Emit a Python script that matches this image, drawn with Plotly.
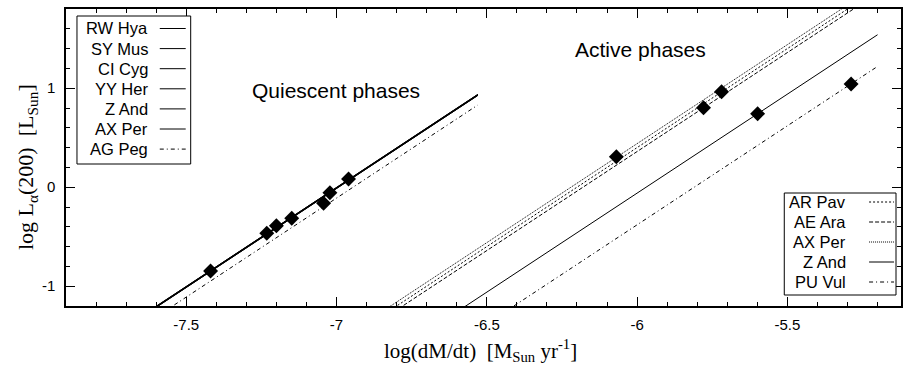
import plotly.graph_objects as go

# ---------------- data ----------------
quiescent_stars = ["RW Hya", "SY Mus", "CI Cyg", "YY Her", "Z And", "AX Per", "AG Peg"]
q_x_start = [-7.62, -7.62, -7.62, -7.62, -7.62, -7.62, -7.57]
q_y_start = [-1.250, -1.246, -1.242, -1.254, -1.252, -1.244, -1.250]
q_x_end = [-6.53, -6.53, -6.53, -6.53, -6.53, -6.53, -6.53]
q_y_end = [0.930, 0.934, 0.938, 0.926, 0.928, 0.936, 0.830]

active_stars = ["AR Pav", "AE Ara", "AX Per", "Z And", "PU Vul"]
a_x_start = [-6.83, -6.81, -6.85, -6.60, -6.44]
a_y_start = [-1.26, -1.26, -1.26, -1.26, -1.26]
a_x_end = [-5.20, -5.20, -5.20, -5.20, -5.20]
a_y_end = [2.00, 1.96, 2.04, 1.54, 1.22]

q_pts_x = [-7.419, -7.232, -7.200, -7.149, -7.043, -7.022, -6.960]
q_pts_y = [-0.846, -0.466, -0.389, -0.314, -0.163, -0.056, 0.083]
a_pts_x = [-6.069, -5.779, -5.719, -5.599, -5.288]
a_pts_y = [0.308, 0.803, 0.965, 0.742, 1.042]

x_tick_vals = [-7.5, -7, -6.5, -6, -5.5]
x_tick_text = ["-7.5", "-7", "-6.5", "-6", "-5.5"]
y_tick_vals = [-1, 0, 1]
y_tick_text = ["-1", "0", "1"]

# ---------------- styles ----------------
SANS = "Liberation Sans, Arial, Helvetica, sans-serif"
SERIF = "Liberation Serif, Times New Roman, serif"
DASHDOT = "4px,3px,1px,3px"
q_dash = ["solid", "solid", "solid", "solid", "solid", "solid", DASHDOT]
q_width = [1, 1, 1, 1, 1, 1, 1]
a_dash = ["2px,2px", "4px,2px", "1px,1px", "solid", DASHDOT]

W, H = 903, 365
ML, MR, MT, MB = 66, 0, 9, 59
PW, PH = W - ML - MR, H - MT - MB


def px_x(px):
    return (px - ML) / PW


def px_y(py):
    return (H - MB - py) / PH


fig = go.Figure()

for i, s in enumerate(quiescent_stars):
    fig.add_trace(go.Scatter(
        x=[q_x_start[i], q_x_end[i]], y=[q_y_start[i], q_y_end[i]],
        mode="lines", name=s, showlegend=False,
        line=dict(color="black", width=q_width[i], dash=q_dash[i])))

for i, s in enumerate(active_stars):
    fig.add_trace(go.Scatter(
        x=[a_x_start[i], a_x_end[i]], y=[a_y_start[i], a_y_end[i]],
        mode="lines", name=s, showlegend=False,
        line=dict(color="black", width=1, dash=a_dash[i])))

fig.add_trace(go.Scatter(x=q_pts_x, y=q_pts_y, mode="markers", showlegend=False,
                         marker=dict(symbol="diamond", size=11.5, color="black")))
fig.add_trace(go.Scatter(x=a_pts_x, y=a_pts_y, mode="markers", showlegend=False,
                         marker=dict(symbol="diamond", size=11.5, color="black")))

shapes = []
annotations = []


def draw_legend(names, dashes, box, row0, rowstep, text_right, s0, s1):
    shapes.append(dict(type="rect", xref="paper", yref="paper",
                       x0=px_x(box[0]), x1=px_x(box[1]), y0=px_y(box[2]), y1=px_y(box[3]),
                       line=dict(color="black", width=1), fillcolor="white", layer="above"))
    for i, n in enumerate(names):
        yy = row0 + rowstep * i
        annotations.append(dict(xref="paper", yref="paper", x=px_x(text_right), y=px_y(yy),
                                xanchor="right", yanchor="middle", showarrow=False, text=n,
                                font=dict(family=SANS, size=16.5, color="black")))
        shapes.append(dict(type="line", xref="paper", yref="paper",
                           x0=px_x(s0), x1=px_x(s1), y0=px_y(yy), y1=px_y(yy),
                           line=dict(color="black", width=1, dash=dashes[i]), layer="above"))


draw_legend(quiescent_stars, q_dash, (77, 191, 16, 164), 28.5, 20.1, 150, 160, 186)
draw_legend(active_stars, a_dash, (786, 898, 193, 295), 202, 20, 850, 871, 896)

annotations.append(dict(xref="paper", yref="paper", x=px_x(337), y=px_y(90), showarrow=False,
                        text="Quiescent phases", font=dict(family=SANS, size=21, color="black"),
                        xanchor="center", yanchor="middle"))
annotations.append(dict(xref="paper", yref="paper", x=px_x(642), y=px_y(49), showarrow=False,
                        text="Active phases", font=dict(family=SANS, size=21, color="black"),
                        xanchor="center", yanchor="middle"))
annotations.append(dict(xref="paper", yref="paper", x=px_x(481), y=px_y(350), showarrow=False,
                        text="log(dM/dt)\u00a0\u00a0[M<sub>Sun</sub> yr<sup>-1</sup>]",
                        font=dict(family=SERIF, size=21, color="black"),
                        xanchor="center", yanchor="middle"))
annotations.append(dict(xref="paper", yref="paper", x=px_x(27), y=px_y(167), showarrow=False,
                        text="log L<sub>\u03b1</sub>(200)\u00a0\u00a0[L<sub>Sun</sub>]",
                        textangle=-90, font=dict(family=SERIF, size=22, color="black"),
                        xanchor="center", yanchor="middle"))

axis_common = dict(showline=True, linecolor="black", linewidth=1.5, mirror="allticks",
                   ticks="inside", ticklen=9, tickwidth=1, tickcolor="black",
                   showgrid=False, zeroline=False,
                   tickfont=dict(family=SANS, size=15, color="black"))

fig.update_layout(
    width=W, height=H, margin=dict(l=ML, r=MR, t=MT, b=MB),
    paper_bgcolor="white", plot_bgcolor="white",
    xaxis=dict(range=[-7.9, -5.122], tickmode="array", tickvals=x_tick_vals, ticktext=x_tick_text,
               ticklabelstandoff=4,
               minor=dict(tickmode="linear", tick0=0, dtick=0.1, ticks="inside", ticklen=4,
                          tickcolor="black", tickwidth=1),
               **axis_common),
    yaxis=dict(range=[-1.2, 1.8], tickmode="array", tickvals=y_tick_vals, ticktext=y_tick_text,
               ticklabelstandoff=6,
               minor=dict(tickmode="linear", tick0=0, dtick=0.2, ticks="inside", ticklen=4,
                          tickcolor="black", tickwidth=1),
               **axis_common),
    shapes=shapes, annotations=annotations, showlegend=False,
)

fig.write_html("out.html", config={"displayModeBar": False},
               post_script="document.body.style.margin='0';document.body.style.overflow='hidden';")
